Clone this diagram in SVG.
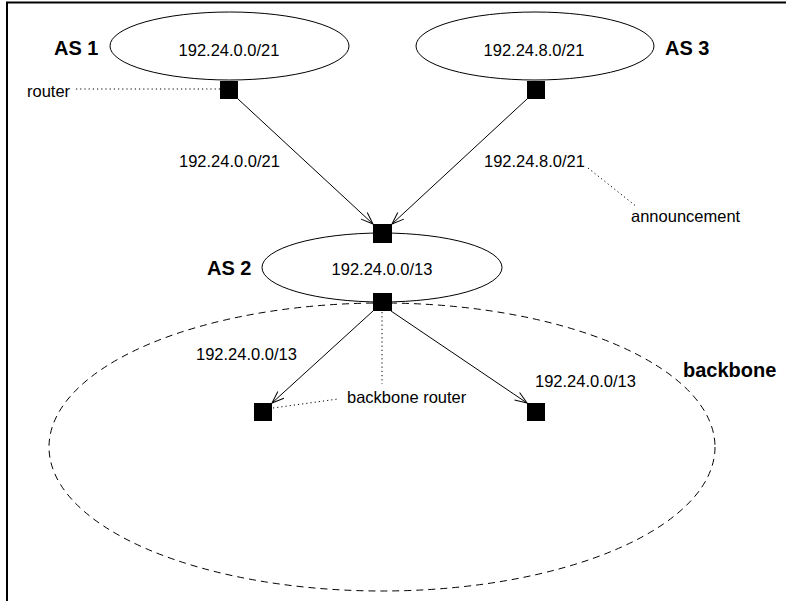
<svg xmlns="http://www.w3.org/2000/svg" width="786" height="601" viewBox="0 0 786 601">
<style>
.t{font-family:"Liberation Sans",Arial,sans-serif;font-size:16.5px;fill:#000}
.b{font-family:"Liberation Sans",Arial,sans-serif;font-size:20px;font-weight:bold;fill:#000}
.el{fill:none;stroke:#000;stroke-width:1}
.r{fill:#000}
.ln{stroke:#000;stroke-width:1;fill:none}
.dot{stroke:#000;stroke-width:1;fill:none;stroke-dasharray:1.2 3}
</style>
<defs>
<marker id="arr" markerUnits="userSpaceOnUse" markerWidth="16" markerHeight="16" refX="13" refY="8" orient="auto">
<path d="M1,3.5 L13,8 L1,12.5" fill="none" stroke="#000" stroke-width="1"/>
</marker>
</defs>
<rect width="786" height="601" fill="#fff"/>
<g id="frame"><path d="M7,601 V2.5 H786" fill="none" stroke="#000" stroke-width="2"/></g>
<g id="backbone"><ellipse cx="382" cy="447" rx="333" ry="144" fill="none" stroke="#000" stroke-width="1" stroke-dasharray="7 5"/><text class="b" x="683" y="377">backbone</text></g>
<g id="as1"><ellipse class="el" cx="229.5" cy="46" rx="119.5" ry="34"/><text class="t" x="229" y="56" text-anchor="middle">192.24.0.0/21</text><text class="b" x="54" y="55">AS 1</text></g>
<g id="as3"><ellipse class="el" cx="535" cy="46" rx="119" ry="34"/><text class="t" x="534" y="56" text-anchor="middle">192.24.8.0/21</text><text class="b" x="665" y="55">AS 3</text></g>
<g id="as2"><ellipse class="el" cx="382" cy="267.5" rx="120" ry="34.5"/><text class="t" x="382" y="275" text-anchor="middle">192.24.0.0/13</text><text class="b" x="207" y="275">AS 2</text></g>
<g id="connectors">
<line class="ln" x1="238" y1="99" x2="373" y2="224" marker-end="url(#arr)"/>
<line class="ln" x1="527" y1="99" x2="392" y2="224" marker-end="url(#arr)"/>
<line class="ln" x1="373" y1="311" x2="272" y2="403" marker-end="url(#arr)"/>
<line class="ln" x1="391" y1="311" x2="527" y2="403" marker-end="url(#arr)"/>
<line class="dot" x1="76" y1="89" x2="220" y2="89"/>
<line class="dot" x1="588" y1="168" x2="637" y2="207"/>
<line class="dot" x1="382" y1="312" x2="382" y2="384"/>
<line class="dot" x1="273" y1="408" x2="338" y2="399"/>
</g>
<g id="router1"><rect class="r" x="220" y="81" width="18" height="18"/></g>
<g id="router3"><rect class="r" x="527" y="81" width="18" height="18"/></g>
<g id="router2top"><rect class="r" x="373" y="224" width="19" height="19"/></g>
<g id="router2bot"><rect class="r" x="373" y="293" width="19" height="18"/></g>
<g id="bbleft"><rect class="r" x="254" y="403" width="18" height="18"/></g>
<g id="bbright"><rect class="r" x="527" y="403" width="18" height="18"/></g>
<g id="labels">
<text class="t" x="27" y="97">router</text>
<text class="t" x="179" y="167">192.24.0.0/21</text>
<text class="t" x="484" y="167">192.24.8.0/21</text>
<text class="t" x="631" y="222">announcement</text>
<text class="t" x="196" y="360">192.24.0.0/13</text>
<text class="t" x="535" y="387">192.24.0.0/13</text>
<text class="t" x="347" y="403">backbone router</text>
</g>
</svg>
